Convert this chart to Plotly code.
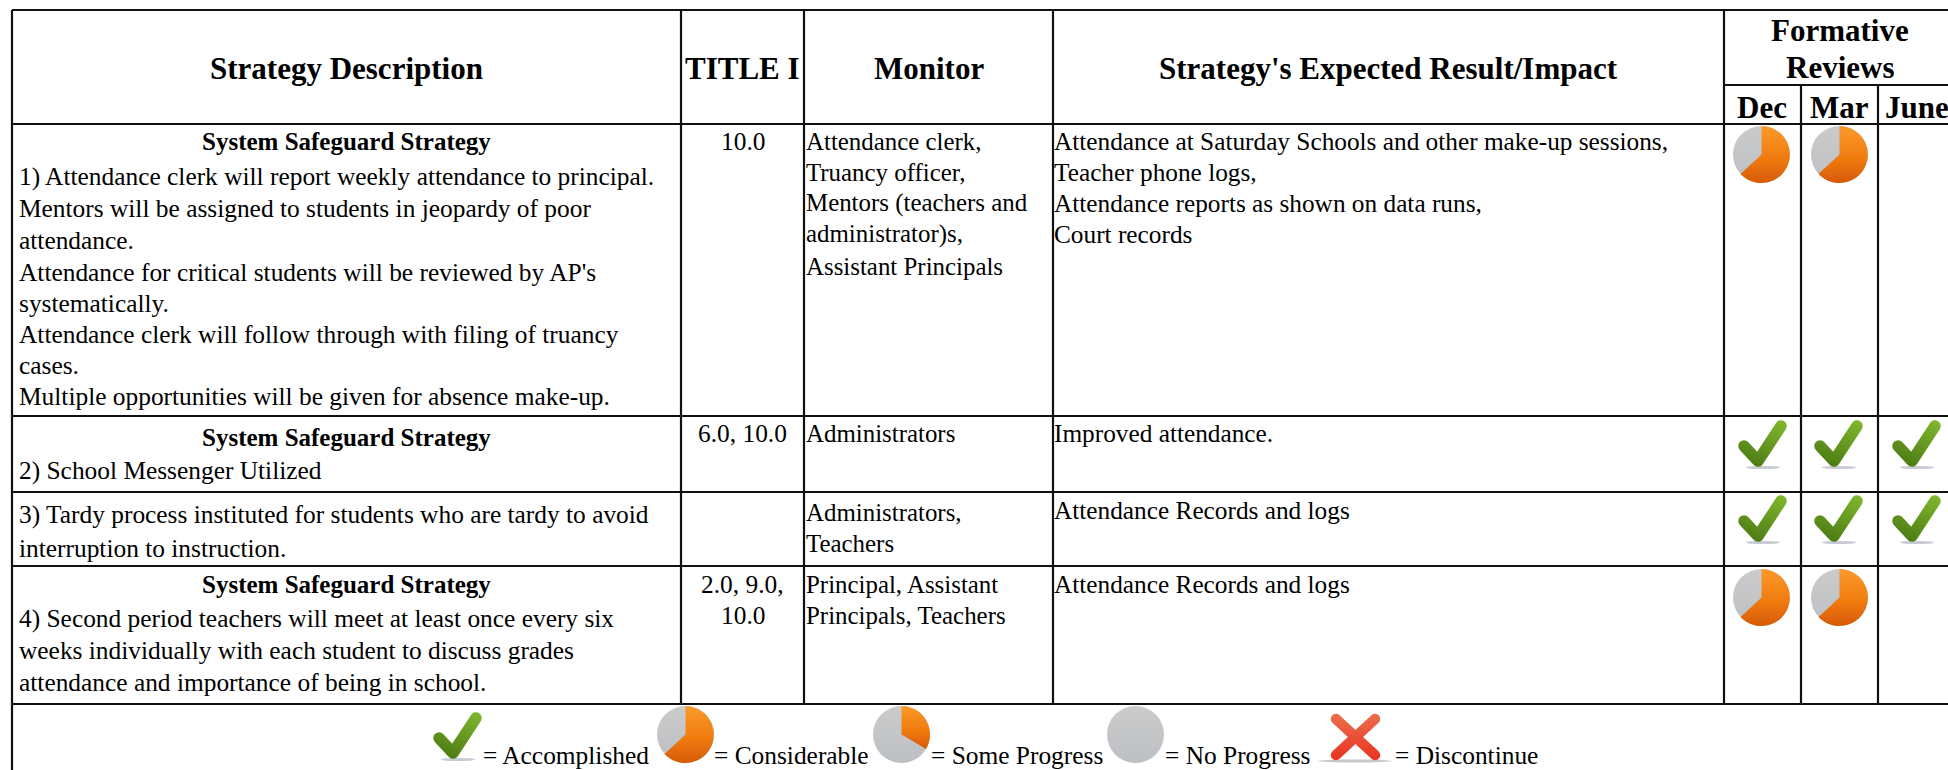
import base64
import plotly.graph_objects as go

FONT = "Liberation Serif"
W, H = 1948, 770

COL_EDGES = [12, 681, 804, 1053, 1724, 1801, 1878]
ROW_EDGES = [10, 124, 416, 492, 566, 704]
SUBHEAD_Y = 85

HEADERS = ["Strategy Description", "TITLE I", "Monitor", "Strategy's Expected Result/Impact"]
FORMATIVE = ["Formative", "Reviews"]
MONTHS = ["Dec", "Mar", "June"]

SAFEGUARD = "System Safeguard Strategy"
DESCRIPTION = [
    [("b", SAFEGUARD, 141),
     ("", "1) Attendance clerk will report weekly attendance to principal.", 176),
     ("", "Mentors will be assigned to students in jeopardy of poor", 208),
     ("", "attendance.", 240),
     ("", "Attendance for critical students will be reviewed by AP's", 272),
     ("", "systematically.", 303),
     ("", "Attendance clerk will follow through with filing of truancy", 334),
     ("", "cases.", 365),
     ("", "Multiple opportunities will be given for absence make-up.", 396)],
    [("b", SAFEGUARD, 437), ("", "2) School Messenger Utilized", 470)],
    [("", "3) Tardy process instituted for students who are tardy to avoid", 514),
     ("", "interruption to instruction.", 548)],
    [("b", SAFEGUARD, 584),
     ("", "4) Second period teachers will meet at least once every six", 618),
     ("", "weeks individually with each student to discuss grades", 650),
     ("", "attendance and importance of being in school.", 682)],
]
TITLE_I = [("10.0", 141), ("6.0, 10.0", 433), ("2.0, 9.0,", 584), ("10.0", 615)]
MONITOR = [
    ("Attendance clerk,", 141), ("Truancy officer,", 172), ("Mentors (teachers and", 203),
    ("administrator)s,", 234), ("Assistant Principals", 266),
    ("Administrators", 433), ("Administrators,", 512), ("Teachers", 543),
    ("Principal, Assistant", 584), ("Principals, Teachers", 615),
]
IMPACT = [
    ("Attendance at Saturday Schools and other make-up sessions,", 141),
    ("Teacher phone logs,", 172), ("Attendance reports as shown on data runs,", 203),
    ("Court records", 234), ("Improved attendance.", 433),
    ("Attendance Records and logs", 510), ("Attendance Records and logs", 584),
]
# status per row: Dec, Mar, June
STATUS = [
    ("considerable", "considerable", None),
    ("check", "check", "check"),
    ("check", "check", "check"),
    ("considerable", "considerable", None),
]
ROW_TOPS = [125, 418, 493, 568]
PIE_X = [1732, 1810, 1888]
CHECK_X = [1737, 1813, 1891]
LEGEND = [
    ("check", 432, 710, "= Accomplished", 483),
    ("considerable", 656, 705, "= Considerable", 714),
    ("some", 872, 705, "= Some Progress", 931),
    ("none", 1106, 705, "= No Progress", 1165),
    ("cross", 1317, 713, "= Discontinue", 1395),
]

DEFS = """<defs>
<linearGradient id='o' x1='0' y1='0' x2='0' y2='1'><stop offset='0' stop-color='#fb9a2b'/><stop offset='0.55' stop-color='#f07c10'/><stop offset='1' stop-color='#d85a04'/></linearGradient>
<linearGradient id='g' x1='0' y1='0' x2='0' y2='1'><stop offset='0' stop-color='#cbcbcb'/><stop offset='1' stop-color='#bcbfc3'/></linearGradient>
<linearGradient id='c' gradientUnits='userSpaceOnUse' x1='40' y1='0' x2='20' y2='50'><stop offset='0' stop-color='#80b82f'/><stop offset='1' stop-color='#4c7a14'/></linearGradient>
<linearGradient id='r' gradientUnits='userSpaceOnUse' x1='0' y1='0' x2='0' y2='48'><stop offset='0' stop-color='#ec6f4c'/><stop offset='1' stop-color='#e8321f'/></linearGradient>
<filter id='s' filterUnits='userSpaceOnUse' x='0' y='0' width='100' height='100'><feGaussianBlur stdDeviation='0.7'/></filter>
</defs>"""
ART = {
    "considerable": (59, 59, "<g filter='url(#s)'><circle cx='29.5' cy='29.5' r='28.5' fill='url(#g)'/><path d='M29.5 29.5V1A28.5 28.5 0 1 1 8.5 49Z' fill='url(#o)'/></g>"),
    "some": (59, 59, "<g filter='url(#s)'><circle cx='29.5' cy='29.5' r='28.5' fill='url(#g)'/><path d='M29.5 29.5V1A28.5 28.5 0 0 1 54 44Z' fill='url(#o)'/></g>"),
    "none": (59, 59, "<g filter='url(#s)'><circle cx='29.5' cy='29.5' r='28.5' fill='url(#g)'/></g>"),
    "check": (52, 52, "<g filter='url(#s)'><ellipse cx='26' cy='49.5' rx='17' ry='1.6' fill='#c8cad6'/><path d='M7 28L21 43L44 8' fill='none' stroke='url(#c)' stroke-width='11.5' stroke-linecap='round' stroke-linejoin='round'/></g>"),
    "cross": (77, 50, "<g filter='url(#s)'><ellipse cx='38' cy='48' rx='37' ry='1.5' fill='#c8c8c8'/><path d='M19 6L58 42M58 6L19 42' fill='none' stroke='url(#r)' stroke-width='10.5' stroke-linecap='round'/></g>"),
}


def icon_uri(name):
    w, h, art = ART[name]
    svg = f"<svg xmlns='http://www.w3.org/2000/svg' width='{w}' height='{h}' viewBox='0 0 {w} {h}'>{DEFS}{art}</svg>"
    return "data:image/svg+xml;base64," + base64.b64encode(svg.encode()).decode()


fig = go.Figure()
fig.add_trace(go.Scatter(x=[0, W], y=[0, H], mode="markers", marker=dict(opacity=0), hoverinfo="skip", showlegend=False))


def line(x0, y0, x1, y1):
    fig.add_shape(type="line", x0=x0, y0=y0, x1=x1, y1=y1, line=dict(color="#111111", width=2.2), layer="above")


def text(x, y, s, size=25.4, anchor="left", bold=False):
    fig.add_annotation(x=x, y=y, text=f"<b>{s}</b>" if bold else s, showarrow=False, xanchor=anchor,
                       yanchor="middle", align=anchor, borderpad=0, borderwidth=0,
                       font=dict(family=FONT, size=size, color="#000000"))


def image(name, x, y):
    w, h, _ = ART[name]
    fig.add_layout_image(source=icon_uri(name), x=x, y=y, sizex=w, sizey=h, xref="x", yref="y",
                         xanchor="left", yanchor="top", sizing="stretch", layer="above")


# grid
for y in ROW_EDGES:
    line(COL_EDGES[0], y, W, y)
line(COL_EDGES[4], SUBHEAD_Y, W, SUBHEAD_Y)
line(COL_EDGES[0], ROW_EDGES[0], COL_EDGES[0], H)
for x in COL_EDGES[1:5]:
    line(x, ROW_EDGES[0], x, ROW_EDGES[5])
for x in COL_EDGES[5:]:
    line(x, SUBHEAD_Y, x, ROW_EDGES[5])

# header
HEAD = 31
for i, h in enumerate(HEADERS):
    text((COL_EDGES[i] + COL_EDGES[i + 1]) / 2, 68, h, size=HEAD, anchor="center", bold=True)
text(1840, 30, FORMATIVE[0], size=HEAD, anchor="center", bold=True)
text(1840, 67, FORMATIVE[1], size=HEAD, anchor="center", bold=True)
text(1762, 107, MONTHS[0], size=HEAD, anchor="center", bold=True)
text(1839, 107, MONTHS[1], size=HEAD, anchor="center", bold=True)
text(1885, 107, MONTHS[2], size=HEAD, anchor="left", bold=True)

# body
for group in DESCRIPTION:
    for kind, s, y in group:
        if kind == "b":
            text((COL_EDGES[0] + COL_EDGES[1]) / 2, y, s, size=25, anchor="center", bold=True)
        else:
            text(COL_EDGES[0] + 7, y, s)
for s, y in TITLE_I:
    text((COL_EDGES[1] + COL_EDGES[2]) / 2, y, s, anchor="center")
for s, y in MONITOR:
    text(COL_EDGES[2] + 2, y, s, size=24.9)
for s, y in IMPACT:
    text(COL_EDGES[3] + 1, y, s, size=25.3)

# status icons
for row, top in zip(STATUS, ROW_TOPS):
    for i, name in enumerate(row):
        if name:
            image(name, (CHECK_X if name == "check" else PIE_X)[i], top)

# legend
for name, x, y, label, tx in LEGEND:
    image(name, x, y)
    text(tx, 755, label)

fig.update_xaxes(range=[0, W], visible=False, fixedrange=True)
fig.update_yaxes(range=[H, 0], visible=False, fixedrange=True)
fig.update_layout(width=W, height=H, margin=dict(l=0, r=0, t=0, b=0), paper_bgcolor="white",
                  plot_bgcolor="white", showlegend=False)
fig.write_html("out.html", config=dict(displayModeBar=False),
               post_script="document.body.style.margin='0';document.body.style.overflow='hidden';")
